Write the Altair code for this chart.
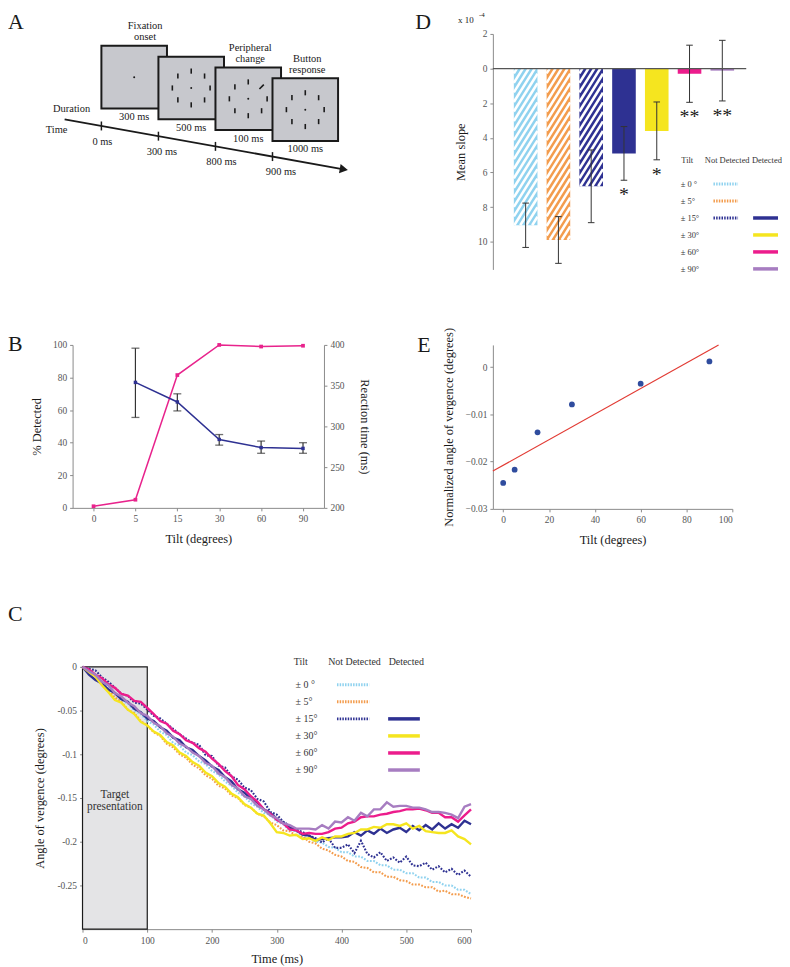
import math
import altair as alt
import pandas as pd

FONT = "Liberation Serif"
INK = "#1a1a1a"

# ======================= DATA =======================
# Panel A (trial schematic)
a_captions = ["Fixation\nonset", "", "Peripheral\nchange", "Button\nresponse"]
a_durations = ["300 ms", "500 ms", "100 ms", "1000 ms"]
a_times = ["0 ms", "300 ms", "800 ms", "900 ms"]
a_ring = [False, True, True, True]
a_changed = [False, False, True, False]

# Panel B
b_tilt = ["0", "5", "15", "30", "60", "90"]
b_detected = [1.0, 5.0, 81.5, 100.0, 99.0, 99.5]
b_rt = [None, 354, 330, 284, 274, 273]
b_rt_lo = [None, 311, 319, 277, 267, 267]
b_rt_hi = [None, 396, 340, 290, 282, 280]

# Panel C (vergence traces, every 10 ms)
c_time = list(range(0, 601, 10))
c_nd0 = [0, -0.004, -0.010, -0.015, -0.025, -0.030, -0.038, -0.042, -0.050, -0.054,
         -0.062, -0.066, -0.074, -0.078, -0.087, -0.090, -0.098, -0.101, -0.108, -0.111,
         -0.119, -0.123, -0.131, -0.136, -0.144, -0.148, -0.156, -0.160, -0.167, -0.169,
         -0.177, -0.180, -0.187, -0.188, -0.194, -0.195, -0.200, -0.201, -0.206, -0.207,
         -0.212, -0.212, -0.217, -0.217, -0.222, -0.222, -0.227, -0.227, -0.232, -0.232,
         -0.236, -0.236, -0.241, -0.241, -0.246, -0.246, -0.250, -0.250, -0.255, -0.255,
         -0.260]
c_nd5 = [0, -0.006, -0.010, -0.020, -0.026, -0.035, -0.040, -0.049, -0.053, -0.062,
         -0.067, -0.075, -0.079, -0.088, -0.092, -0.100, -0.104, -0.112, -0.116, -0.124,
         -0.128, -0.136, -0.139, -0.147, -0.150, -0.158, -0.161, -0.168, -0.171, -0.178,
         -0.181, -0.187, -0.188, -0.193, -0.194, -0.200, -0.202, -0.208, -0.210, -0.215,
         -0.217, -0.222, -0.223, -0.229, -0.230, -0.235, -0.235, -0.240, -0.240, -0.244,
         -0.245, -0.249, -0.249, -0.252, -0.252, -0.257, -0.256, -0.260, -0.260, -0.263,
         -0.265]
c_nd15 = [0, -0.002, -0.004, -0.012, -0.017, -0.024, -0.031, -0.033, -0.041, -0.042,
          -0.049, -0.056, -0.059, -0.065, -0.071, -0.077, -0.082, -0.087, -0.089, -0.101,
          -0.102, -0.113, -0.115, -0.125, -0.129, -0.138, -0.141, -0.151, -0.154, -0.166,
          -0.169, -0.177, -0.182, -0.186, -0.189, -0.193, -0.196, -0.201, -0.196, -0.207,
          -0.207, -0.203, -0.213, -0.199, -0.214, -0.218, -0.212, -0.222, -0.218, -0.224,
          -0.217, -0.227, -0.228, -0.224, -0.232, -0.228, -0.235, -0.231, -0.238, -0.233,
          -0.240]
c_d15 = [0, -0.009, -0.015, -0.019, -0.026, -0.030, -0.037, -0.040, -0.048, -0.052,
         -0.059, -0.062, -0.069, -0.073, -0.081, -0.084, -0.092, -0.095, -0.102, -0.107,
         -0.114, -0.118, -0.126, -0.131, -0.140, -0.144, -0.151, -0.155, -0.163, -0.167,
         -0.174, -0.178, -0.184, -0.187, -0.192, -0.193, -0.198, -0.197, -0.196, -0.195,
         -0.195, -0.194, -0.189, -0.193, -0.187, -0.191, -0.185, -0.190, -0.186, -0.184,
         -0.189, -0.182, -0.187, -0.181, -0.186, -0.179, -0.185, -0.180, -0.184, -0.176,
         -0.180]
c_d30 = [0, -0.006, -0.011, -0.021, -0.029, -0.038, -0.041, -0.049, -0.054, -0.063,
         -0.067, -0.074, -0.078, -0.086, -0.090, -0.098, -0.102, -0.109, -0.113, -0.121,
         -0.125, -0.133, -0.137, -0.145, -0.149, -0.157, -0.161, -0.168, -0.170, -0.179,
         -0.189, -0.190, -0.193, -0.192, -0.197, -0.196, -0.199, -0.195, -0.198, -0.194,
         -0.194, -0.191, -0.190, -0.186, -0.186, -0.183, -0.184, -0.180, -0.180, -0.182,
         -0.179, -0.185, -0.182, -0.188, -0.189, -0.190, -0.190, -0.187, -0.194, -0.197,
         -0.203]
c_d60 = [0, -0.003, -0.009, -0.013, -0.020, -0.024, -0.031, -0.033, -0.039, -0.040,
         -0.047, -0.054, -0.062, -0.065, -0.073, -0.077, -0.084, -0.087, -0.093, -0.097,
         -0.105, -0.111, -0.119, -0.125, -0.135, -0.140, -0.148, -0.154, -0.163, -0.168,
         -0.175, -0.179, -0.186, -0.187, -0.191, -0.190, -0.191, -0.191, -0.189, -0.185,
         -0.184, -0.179, -0.177, -0.172, -0.171, -0.171, -0.169, -0.168, -0.166, -0.165,
         -0.163, -0.163, -0.162, -0.164, -0.167, -0.167, -0.172, -0.172, -0.177, -0.170,
         -0.163]
c_d90 = [0, -0.005, -0.009, -0.017, -0.021, -0.030, -0.034, -0.041, -0.045, -0.053,
         -0.056, -0.064, -0.068, -0.076, -0.080, -0.088, -0.091, -0.098, -0.102, -0.110,
         -0.113, -0.122, -0.126, -0.135, -0.139, -0.148, -0.151, -0.159, -0.163, -0.170,
         -0.173, -0.179, -0.181, -0.185, -0.185, -0.185, -0.186, -0.181, -0.185, -0.177,
         -0.178, -0.172, -0.176, -0.167, -0.171, -0.163, -0.163, -0.155, -0.160, -0.159,
         -0.159, -0.161, -0.161, -0.163, -0.166, -0.166, -0.167, -0.169, -0.173, -0.160,
         -0.157]
c_target = [0, 100]
legend_tilts = ["± 0 °", "± 5°", "± 15°", "± 30°", "± 60°", "± 90°"]

# Panel D
d_mean = [-9.05, -9.9, -6.8, -4.9, -3.6, -0.3, -0.12]
d_sem = [1.28, 1.35, 2.1, 1.55, 1.67, 1.65, 1.75]
d_sig = ["", "", "", "*", "*", "**", "**"]
d_detected = [False, False, False, True, True, True, True]

# Panel E
e_tilt = [0, 5, 15, 30, 60, 90]
e_angle = [-0.0245, -0.0217, -0.0138, -0.0079, -0.0035, 0.0012]
e_fit_x = [-4.5, 94]
e_fit_y = [-0.0220, 0.0047]

# series shared by C and D
SERIES = ["nd0", "nd5", "nd15", "d15", "d30", "d60", "d90"]
SERIES_COLORS = ["#8fd2ef", "#f39c4d", "#2e3192", "#2e3192", "#f5e51f", "#ec1c8c", "#a77dc1"]
LEGEND_ROW = [0, 1, 2, 2, 3, 4, 5]
CSCALE = alt.Scale(domain=SERIES, range=SERIES_COLORS)


def label(t, px, py, size=22):
    return alt.Chart(pd.DataFrame({"t": [t]})).mark_text(
        align="left", baseline="top", fontSize=size, font=FONT, color=INK
    ).encode(text="t:N", x=alt.value(px), y=alt.value(py))


# ======================= PANEL A =======================
XA = alt.Scale(domain=[73, 474], nice=False, zero=False)
YA = alt.Scale(domain=[267, 30], nice=False, zero=False)


def ax(f):
    return alt.X(f"{f}:Q", scale=XA, axis=None)


def ay(f):
    return alt.Y(f"{f}:Q", scale=YA, axis=None)


S_X0, S_Y0, S_DX, S_DY, S_W, S_H = 102.0, 42.0, 57.4, 10.9, 66.0, 63.0
CAP_LH = 11
scr_rows, stim_rows, dot_rows = [], [], []
for i in range(len(a_durations)):
    x0 = S_X0 + S_DX * i
    y0 = S_Y0 + S_DY * i
    cxp, cyp = x0 + S_W / 2, y0 + S_H / 2
    n_lines = a_captions[i].count("\n") + 1
    scr_rows.append(dict(x=x0, x2=x0 + S_W, y=y0, y2=y0 + S_H, cx=cxp, dury=y0 + S_H + 8.5,
                         dur=a_durations[i], cap=a_captions[i],
                         capx=cxp + (11 if i == 0 else 2),
                         capy=y0 - 3.5 - CAP_LH * (n_lines - 1)))
    dot_rows.append(dict(x=cxp, y=cyp))
    if a_ring[i]:
        for k in range(8):
            ang = math.radians(45 * k)
            bx, by = cxp + 19 * math.cos(ang), cyp - 17 * math.sin(ang)
            if a_changed[i] and k == 1:
                stim_rows.append(dict(x=bx - 2.2, y=by + 2.2, x2=bx + 2.2, y2=by - 2.2))
            else:
                stim_rows.append(dict(x=bx, y=by - 2.6, x2=bx, y2=by + 2.6))
screens = pd.DataFrame(scr_rows)
stims = pd.DataFrame(stim_rows)
dots = pd.DataFrame(dot_rows)

TL_X0, TL_Y0, TL_X1, TL_SLOPE = 65.0, 116.0, 343.0, 0.179
tl = pd.DataFrame({"x": [TL_X0], "x2": [TL_X1], "y": [TL_Y0],
                   "y2": [TL_Y0 + TL_SLOPE * (TL_X1 - TL_X0)]})
tick_rows = []
for i, lab in enumerate(a_times):
    tx = S_X0 + S_DX * i
    ty = TL_Y0 + TL_SLOPE * (tx - TL_X0)
    tick_rows.append(dict(x=tx, y=ty - 4.5, y2=ty + 4.5, lx=tx + 1 + 2.5 * i, ly=ty + 16, lab=lab))
ticks_a = pd.DataFrame(tick_rows)
arrow = pd.DataFrame({"x": [TL_X1 + 3], "y": [TL_Y0 + TL_SLOPE * (TL_X1 + 3 - TL_X0)]})
words = pd.DataFrame({"t": ["Duration", "Time"], "x": [72, 57], "y": [106, 127]})

txtA = dict(font=FONT, fontSize=10.5, color=INK)
panel_a = alt.layer(
    alt.Chart(tl).mark_rule(color=INK, strokeWidth=1.8).encode(x=ax("x"), x2="x2", y=ay("y"), y2="y2"),
    alt.Chart(arrow).mark_point(shape="triangle-right", angle=10, size=90, filled=True, color=INK,
                                opacity=1).encode(x=ax("x"), y=ay("y")),
    alt.Chart(ticks_a).mark_rule(color=INK, strokeWidth=1.5).encode(x=ax("x"), y=ay("y"), y2="y2"),
    alt.Chart(ticks_a).mark_text(**txtA).encode(x=ax("lx"), y=ay("ly"), text="lab:N"),
    alt.Chart(screens).mark_rect(fill="#c7c8cd", stroke=INK, strokeWidth=2).encode(
        x=ax("x"), x2="x2", y=ay("y"), y2="y2"),
    alt.Chart(stims).mark_rule(color=INK, strokeWidth=1.6).encode(x=ax("x"), x2="x2", y=ay("y"), y2="y2"),
    alt.Chart(dots).mark_circle(size=4, color=INK, opacity=1).encode(x=ax("x"), y=ay("y")),
    alt.Chart(screens).mark_text(**txtA).encode(x=ax("cx"), y=ay("dury"), text="dur:N"),
    alt.Chart(screens).mark_text(lineBreak="\n", baseline="bottom", lineHeight=CAP_LH, **txtA).encode(
        x=ax("capx"), y=ay("capy"), text="cap:N"),
    alt.Chart(words).mark_text(**txtA).encode(x=ax("x"), y=ay("y"), text="t:N"),
    alt.Chart(pd.DataFrame({"t": ["A"], "x": [8], "y": [8]})).mark_text(
        align="left", baseline="top", fontSize=22, font=FONT, color=INK).encode(
        x=ax("x"), y=ay("y"), text="t:N"),
).properties(width=401, height=237)

# ======================= PANEL D =======================
D_XMAX = 7.73
W_D, H_D = 255, 237
XD = alt.Scale(domain=[0, D_XMAX], nice=False, zero=False)
YD = alt.Scale(domain=[-11.6, 2], nice=False, zero=False)
PPX = W_D / D_XMAX
PPY = H_D / 13.6
D_YAXIS = alt.Axis(values=[2, 0, -2, -4, -6, -8, -10], labelExpr="'' + abs(datum.value)",
                   title="Mean slope", titlePadding=10, labelFontSize=9.5)


def dxe(f):
    return alt.X(f"{f}:Q", scale=XD, axis=None)


def dye(f):
    return alt.Y(f"{f}:Q", scale=YD, axis=D_YAXIS)


ddf = pd.DataFrame({"idx": list(range(1, len(d_mean) + 1)), "series": SERIES, "mean": d_mean,
                    "sem": d_sem, "sig": d_sig, "det": d_detected})
ddf["xl"] = ddf["idx"] - 0.36
ddf["xr"] = ddf["idx"] + 0.36
ddf["zero"] = 0.0
ddf["lo"] = ddf["mean"] - ddf["sem"]
ddf["hi"] = ddf["mean"] + ddf["sem"]
ddf["cl"] = ddf["idx"] - 0.1
ddf["cr"] = ddf["idx"] + 0.1
ddf["stary"] = ddf["lo"] - 0.3

# diagonal hatching for "not detected" bars (decoration computed from the bar values)
K_SLOPE, STEP_PX = 1.6, 6.0
stripe_rows = []
for _, r in ddf[~ddf["det"]].iterrows():
    xl, xr = r["xl"] * PPX, r["xr"] * PPX
    yt, yb = 0.0, -r["mean"] * PPY
    c = yt + K_SLOPE * xl + STEP_PX * K_SLOPE / 2
    cmax = yb + K_SLOPE * xr
    while c < cmax:
        x1 = max(xl, (c - yb) / K_SLOPE)
        x2 = min(xr, (c - yt) / K_SLOPE)
        if x2 > x1:
            stripe_rows.append(dict(x=x1 / PPX, x2=x2 / PPX, y=-(c - K_SLOPE * x1) / PPY,
                                    y2=-(c - K_SLOPE * x2) / PPY))
        c += STEP_PX * K_SLOPE
stripes = pd.DataFrame(stripe_rows)
zero_line = pd.DataFrame({"x": [0.0], "x2": [D_XMAX], "y": [0.0]})

# legend positions (D coordinates)
LD_LAB, LD_ND, LD_D = 5.73, 7.15, 8.36
LD_HEAD, LD_ROW0, LD_STEP = -5.29, -6.67, 0.98
leg_d_head = pd.DataFrame({"t": ["Tilt", "Not Detected", "Detected"], "x": [LD_LAB + 0.2, LD_ND, LD_D],
                           "y": [LD_HEAD] * 3})
leg_d_rows = pd.DataFrame({"t": legend_tilts, "x": [LD_LAB] * 6,
                           "y": [LD_ROW0 - LD_STEP * i for i in range(6)]})
sw_d = pd.DataFrame({"series": SERIES, "y": [LD_ROW0 - LD_STEP * r for r in LEGEND_ROW],
                     "det": d_detected})
sw_d["x"] = [7.94 if d else 6.73 for d in d_detected]
sw_d["x2"] = [8.70 if d else 7.48 for d in d_detected]

color_enc = alt.Color("series:N", scale=CSCALE, legend=None)
panel_d = alt.layer(
    alt.Chart(ddf).mark_rect().encode(x=dxe("xl"), x2="xr", y=dye("zero"), y2="mean", color=color_enc),
    alt.Chart(stripes).mark_rule(color="white", strokeWidth=2.6).encode(x=dxe("x"), x2="x2", y=dye("y"), y2="y2"),
    alt.Chart(ddf).mark_rule(color="#333", strokeWidth=1).encode(x=dxe("idx"), y=dye("lo"), y2="hi"),
    alt.Chart(ddf).mark_rule(color="#333", strokeWidth=1).encode(x=dxe("cl"), x2="cr", y=dye("lo")),
    alt.Chart(ddf).mark_rule(color="#333", strokeWidth=1).encode(x=dxe("cl"), x2="cr", y=dye("hi")),
    alt.Chart(ddf).mark_text(baseline="top", fontSize=20, font=FONT, color=INK).encode(
        x=dxe("idx"), y=dye("stary"), text="sig:N"),
    alt.Chart(zero_line).mark_rule(color="#555", strokeWidth=1.2).encode(x=dxe("x"), x2="x2", y=dye("y")),
    alt.Chart(leg_d_head).mark_text(fontSize=8.5, font=FONT, color="#333").encode(
        x=dxe("x"), y=dye("y"), text="t:N"),
    alt.Chart(leg_d_rows).mark_text(align="left", fontSize=8.5, font=FONT, color="#333").encode(
        x=dxe("x"), y=dye("y"), text="t:N"),
    alt.Chart(sw_d[~sw_d["det"]]).mark_rule(strokeWidth=3, strokeDash=[1.5, 1.2]).encode(
        x=dxe("x"), x2="x2", y=dye("y"), color=color_enc),
    alt.Chart(sw_d[sw_d["det"]]).mark_rule(strokeWidth=3.5).encode(
        x=dxe("x"), x2="x2", y=dye("y"), color=color_enc),
    label("D", -78, -22),
    label("x 10", -35, -18, size=9),
    label("-4", -14, -23, size=7),
).properties(width=W_D, height=H_D)

# ======================= PANEL B =======================
bdf = pd.DataFrame({"tilt": b_tilt, "pct": b_detected, "rt": b_rt, "lo": b_rt_lo, "hi": b_rt_hi})
XB = alt.X("tilt:O", sort=b_tilt, scale=alt.Scale(type="point", padding=0.5),
           axis=alt.Axis(title="Tilt (degrees)", labelAngle=0, titlePadding=9))
MAG = "#e8238c"
NAVY = "#2e3192"
RT_SCALE = alt.Scale(domain=[200, 400], nice=False, zero=False)
RT_AXIS = alt.Axis(orient="right", title="Reaction time (ms)", values=[200, 250, 300, 350, 400],
                   titlePadding=14)
pct_layer = alt.Chart(bdf).mark_line(
    color=MAG, strokeWidth=1.5,
    point=alt.OverlayMarkDef(shape="square", size=14, filled=True, color=MAG)
).encode(x=XB, y=alt.Y("pct:Q", scale=alt.Scale(domain=[0, 100], nice=False),
                       axis=alt.Axis(title="% Detected", values=[0, 20, 40, 60, 80, 100], titlePadding=9)))
rt_layer = alt.layer(
    alt.Chart(bdf).mark_rule(color="#333", strokeWidth=1.2).encode(
        x=XB, y=alt.Y("lo:Q", scale=RT_SCALE, axis=RT_AXIS), y2="hi:Q"),
    alt.Chart(bdf).mark_tick(color="#333", thickness=1.3, size=8).encode(
        x=XB, y=alt.Y("lo:Q", scale=RT_SCALE, axis=RT_AXIS)),
    alt.Chart(bdf).mark_tick(color="#333", thickness=1.3, size=8).encode(
        x=XB, y=alt.Y("hi:Q", scale=RT_SCALE, axis=RT_AXIS)),
    alt.Chart(bdf).mark_line(color=NAVY, strokeWidth=1.5,
                             point=alt.OverlayMarkDef(shape="square", size=12, filled=True, color=NAVY)
                             ).encode(x=XB, y=alt.Y("rt:Q", scale=RT_SCALE, axis=RT_AXIS)),
)
panel_b = alt.layer(pct_layer, rt_layer, label("B", -65, -11)).resolve_scale(y="independent").properties(
    width=253, height=164)

# ======================= PANEL E =======================
XE = alt.Scale(domain=[-4.5, 100], nice=False, zero=False)
YE = alt.Scale(domain=[-0.03, 0.0047], nice=False, zero=False)
E_XAXIS = alt.Axis(values=[0, 20, 40, 60, 80, 100], title="Tilt (degrees)", titlePadding=9)
E_YAXIS = alt.Axis(values=[-0.03, -0.02, -0.01, 0],
                   labelExpr="datum.value == 0 ? '0' : format(datum.value, '.2f')",
                   title="Normalized angle of vergence (degrees)", titlePadding=10)
edf = pd.DataFrame({"tilt": e_tilt, "ang": e_angle})
efit = pd.DataFrame({"tilt": e_fit_x, "ang": e_fit_y})
panel_e = alt.layer(
    alt.Chart(efit).mark_line(color="#e23b34", strokeWidth=1.2).encode(
        x=alt.X("tilt:Q", scale=XE, axis=E_XAXIS), y=alt.Y("ang:Q", scale=YE, axis=E_YAXIS)),
    alt.Chart(edf).mark_circle(size=34, color="#2f4c9e", opacity=1).encode(
        x=alt.X("tilt:Q", scale=XE, axis=E_XAXIS), y=alt.Y("ang:Q", scale=YE, axis=E_YAXIS)),
    label("E", -76, -10),
).properties(width=241, height=165)

# ======================= PANEL C =======================
XC = alt.Scale(domain=[0, 600], range=[10, 401], nice=False, zero=False)
YC = alt.Scale(domain=[-0.3, 0], nice=False, zero=False)
C_XAXIS = alt.Axis(values=[0, 100, 200, 300, 400, 500, 600], title="Time (ms)", titlePadding=8)
C_YAXIS = alt.Axis(values=[0, -0.05, -0.1, -0.15, -0.2, -0.25], offset=-10,
                   labelExpr="datum.value == 0 ? '0' : '-' + format(-datum.value, '~g')",
                   title="Angle of vergence (degrees)", titlePadding=10)


def cxe(f):
    return alt.X(f"{f}:Q", scale=XC, axis=C_XAXIS)


def cye(f):
    return alt.Y(f"{f}:Q", scale=YC, axis=C_YAXIS)


c_values = [c_nd0, c_nd5, c_nd15, c_d15, c_d30, c_d60, c_d90]
cdf = pd.concat([pd.DataFrame({"t": c_time[:len(v)], "v": v, "series": s})
                 for s, v in zip(SERIES, c_values)], ignore_index=True)
nd_mask = cdf["series"].str.startswith("nd")
target = pd.DataFrame({"x": [c_target[0]], "x2": [c_target[1]], "y": [-0.3], "y2": [0.0],
                       "tx": [sum(c_target) / 2], "ty": [-0.147], "t": ["Target\npresentation"]})

LC_LAB, LC_ND, LC_D = 329, 420, 500
LC_HEAD, LC_ROW0, LC_STEP = 0.0057, -0.0205, 0.0195
leg_c_head = pd.DataFrame({"t": ["Tilt", "Not Detected", "Detected"], "x": [LC_LAB + 8, LC_ND, LC_D],
                           "y": [LC_HEAD] * 3})
leg_c_rows = pd.DataFrame({"t": legend_tilts, "x": [LC_LAB] * 6,
                           "y": [LC_ROW0 - LC_STEP * i for i in range(6)]})
sw_c = pd.DataFrame({"series": SERIES, "y": [LC_ROW0 - LC_STEP * r for r in LEGEND_ROW],
                     "det": d_detected})
sw_c["x"] = [472 if d else 393 for d in d_detected]
sw_c["x2"] = [521 if d else 443 for d in d_detected]

panel_c = alt.layer(
    alt.Chart(target).mark_rect(fill="#e4e4e6", stroke=INK, strokeWidth=1.2).encode(
        x=cxe("x"), x2="x2", y=cye("y"), y2="y2"),
    alt.Chart(target).mark_text(lineBreak="\n", fontSize=11.5, font=FONT, color="#333", lineHeight=12).encode(
        x=cxe("tx"), y=cye("ty"), text="t:N"),
    alt.Chart(cdf[nd_mask]).mark_line(strokeWidth=2.1, strokeDash=[1.8, 1.5]).encode(
        x=cxe("t"), y=cye("v"), color=color_enc, detail="series:N"),
    alt.Chart(cdf[~nd_mask]).mark_line(strokeWidth=2.4).encode(
        x=cxe("t"), y=cye("v"), color=color_enc, detail="series:N"),
    alt.Chart(leg_c_head).mark_text(fontSize=10, font=FONT, color="#333").encode(
        x=cxe("x"), y=cye("y"), text="t:N"),
    alt.Chart(leg_c_rows).mark_text(align="left", fontSize=10, font=FONT, color="#333").encode(
        x=cxe("x"), y=cye("y"), text="t:N"),
    alt.Chart(sw_c[~sw_c["det"]]).mark_rule(strokeWidth=3, strokeDash=[1.5, 1.2]).encode(
        x=cxe("x"), x2="x2", y=cye("y"), color=color_enc),
    alt.Chart(sw_c[sw_c["det"]]).mark_rule(strokeWidth=3.5).encode(
        x=cxe("x"), x2="x2", y=cye("y"), color=color_enc),
    label("C", -65, -63),
).properties(width=401, height=264)


def spacer():
    return alt.Chart(pd.DataFrame({"v": [0]})).mark_point(opacity=0).encode(
        x=alt.X("v:Q", axis=None), y=alt.Y("v:Q", axis=None)).properties(width=1, height=7)


chart = alt.concat(
    panel_a, panel_d, panel_b, panel_e, spacer(), spacer(), panel_c,
    columns=2, spacing=alt.RowColnumber(row=76, column=22), bounds="flush"
).properties(padding=0).configure(font=FONT).configure_view(strokeWidth=0).configure_axis(
    labelFont=FONT, titleFont=FONT, labelFontSize=9.5, titleFontSize=12.5, titleFontWeight="normal",
    labelColor="#555", titleColor=INK, domainColor="#8a8a8a", tickColor="#8a8a8a", tickSize=3,
    labelPadding=3, grid=False
)

chart.save("out.html", embed_options={"renderer": "svg", "actions": False})
